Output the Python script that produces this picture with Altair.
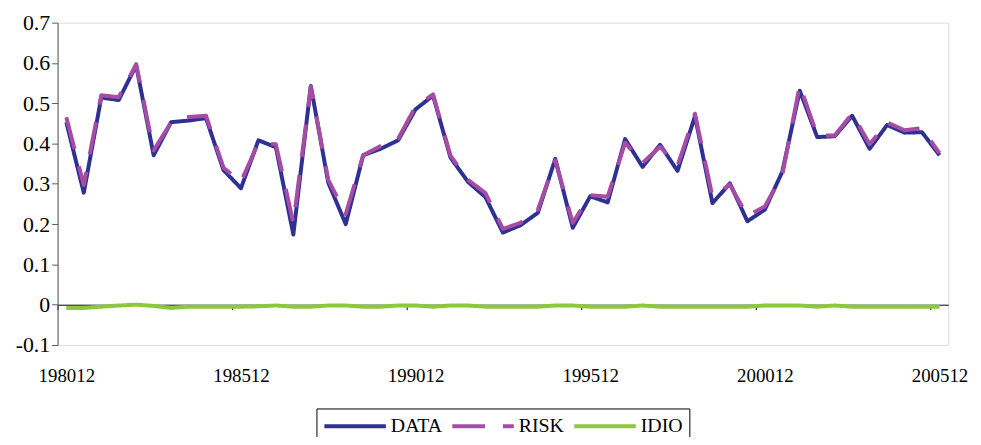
import altair as alt
import pandas as pd

# categories: semi-annual periods 198012 ... 200512
periods = ["198012"] + [f"{y}{m}" for y in range(1981, 2006) for m in ("06", "12")]
tick_labels = ["198012", "198512", "199012", "199512", "200012", "200512"]
series_names = ["DATA", "RISK", "IDIO"]
series_colors = ["#2E3192", "#A64CA4", "#8DC83C"]

data_vals = [0.453, 0.278, 0.514, 0.508, 0.594, 0.371, 0.453, 0.457, 0.463, 0.334,
             0.289, 0.408, 0.391, 0.174, 0.543, 0.303, 0.200, 0.371, 0.387, 0.408,
             0.485, 0.519, 0.365, 0.305, 0.267, 0.179, 0.197, 0.228, 0.362, 0.191,
             0.269, 0.254, 0.411, 0.342, 0.397, 0.332, 0.468, 0.252, 0.301, 0.207,
             0.236, 0.330, 0.531, 0.416, 0.418, 0.469, 0.387, 0.446, 0.427, 0.428,
             0.371]
risk_vals = [0.465, 0.297, 0.520, 0.515, 0.597, 0.383, 0.452, 0.466, 0.469, 0.340,
             0.305, 0.402, 0.398, 0.203, 0.541, 0.310, 0.225, 0.371, 0.394, 0.412,
             0.492, 0.522, 0.370, 0.310, 0.277, 0.188, 0.203, 0.235, 0.358, 0.203,
             0.272, 0.268, 0.402, 0.352, 0.392, 0.345, 0.474, 0.268, 0.298, 0.220,
             0.244, 0.322, 0.545, 0.420, 0.420, 0.474, 0.398, 0.452, 0.433, 0.438,
             0.376]
idio_vals = [-0.008, -0.008, -0.005, -0.002, 0.000, -0.003, -0.008, -0.005, -0.005, -0.005,
             -0.005, -0.004, -0.002, -0.005, -0.005, -0.002, -0.002, -0.005, -0.005, -0.002,
             -0.002, -0.005, -0.002, -0.002, -0.005, -0.005, -0.005, -0.005, -0.002, -0.002,
             -0.005, -0.005, -0.005, -0.002, -0.005, -0.005, -0.005, -0.005, -0.005, -0.005,
             -0.002, -0.002, -0.002, -0.005, -0.002, -0.005, -0.005, -0.005, -0.005, -0.005,
             -0.005]

rows = []
for name, vals in zip(series_names, [data_vals, risk_vals, idio_vals]):
    for i, (p, v) in enumerate(zip(periods, vals)):
        rows.append({"series": name, "idx": i, "period": p, "value": v})
df = pd.DataFrame(rows)

n = len(periods)
W, H = 898, 325
half_step = W / n / 2
zero_offset = -H * 0.1 / 0.8

x_tick_vals = [i * 10 - 0.5 for i in range(len(tick_labels))]
y_vals = [-0.1, 0, 0.1, 0.2, 0.3, 0.4, 0.5, 0.6, 0.7]

FONT = "Liberation Serif"

legend_opts = dict(title=None, orient="none", legendX=261, legendY=389,
                   direction="horizontal", strokeColor="black", padding=6,
                   symbolType="stroke", symbolSize=3844, symbolStrokeWidth=4,
                   clipHeight=24, labelFont=FONT, labelFontSize=20,
                   labelColor="black", labelOffset=3, columnPadding=8)

chart = alt.Chart(df).mark_line(strokeWidth=4, strokeJoin="round").encode(
    x=alt.X("idx:Q",
            scale=alt.Scale(domain=[-0.5, n - 0.5], nice=False, zero=False),
            axis=alt.Axis(values=x_tick_vals, offset=zero_offset, title=None, grid=False,
                          domainColor="black", domainWidth=1, tickColor="black", tickSize=5,
                          labelExpr=f"{tick_labels}[round((datum.value + 0.5) / 10)]",
                          labelOffset=half_step, labelPadding=57, labelFlush=False,
                          labelOverlap=False, labelFont=FONT, labelFontSize=19,
                          labelColor="black")),
    y=alt.Y("value:Q",
            scale=alt.Scale(domain=[-0.1, 0.7], nice=False, zero=False),
            axis=alt.Axis(values=y_vals, title=None, grid=False,
                          domainColor="#5a5a5a", tickColor="#5a5a5a", tickSize=6,
                          labelExpr="datum.value < -0.0001 ? '-' + format(-datum.value, '.1f') : (abs(datum.value) < 0.0001 ? '0' : format(datum.value, '.1f'))",
                          labelPadding=2, labelFont=FONT, labelFontSize=22,
                          labelColor="black")),
    color=alt.Color("series:N", sort=series_names,
                    scale=alt.Scale(domain=series_names, range=series_colors),
                    legend=alt.Legend(**legend_opts)),
    strokeDash=alt.StrokeDash("series:N", sort=series_names,
                              scale=alt.Scale(domain=series_names,
                                              range=[[1, 0], [33, 18], [1, 0]]),
                              legend=alt.Legend(**legend_opts)),
    tooltip=["series:N", "period:N", "value:Q"],
).properties(
    width=W, height=H,
    autosize=alt.AutoSizeParams(type="none"),
    padding={"left": 50, "top": 13, "right": 25, "bottom": 91},
).configure_view(stroke=None).configure(background="white")

chart.save("out.html", embed_options={"renderer": "svg", "actions": False})
